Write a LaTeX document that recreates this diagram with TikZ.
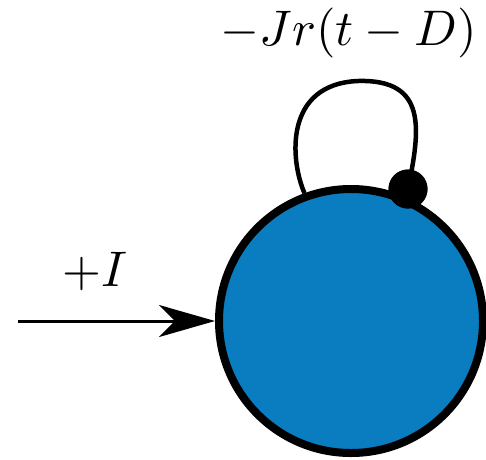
\documentclass[tikz,border=0pt]{standalone}
\usetikzlibrary{arrows.meta}
\definecolor{nodeblue}{RGB}{10,125,192}
\tikzset{
  neuron/.style={circle, draw=black, line width=8pt, fill=nodeblue, minimum size=264pt, inner sep=0pt},
  synapse/.style={circle, fill=black, minimum size=39pt, inner sep=0pt},
  loopline/.style={draw=black, line width=4.5pt},
  inarrow/.style={draw=black, line width=3pt, -{Stealth[length=56pt, width=32pt, inset=16pt]}},
  lbl/.style={inner sep=0pt, scale=5}
}
\begin{document}
\begin{tikzpicture}[x=1pt,y=-1pt]
\useasboundingbox (0,0) rectangle (486,459);
\node[neuron] (n) at (351,321) {};
\coordinate (lf) at (n.110);
\coordinate (top) at (358,81);
\node[synapse] (s) at (408,189) {};
\draw[loopline] (lf) .. controls (290,160) and (284,84) .. (top) .. controls (428,79) and (420,130) .. (s.center);
\node[synapse] at (s) {};
\coordinate (start) at (18,321);
\draw[inarrow] (start) -- (n.west);
\node[lbl] (li) at (95,271) {$+I$};
\node[lbl] (lj) at (349,33) {$-Jr(t-D)$};
\end{tikzpicture}
\end{document}
